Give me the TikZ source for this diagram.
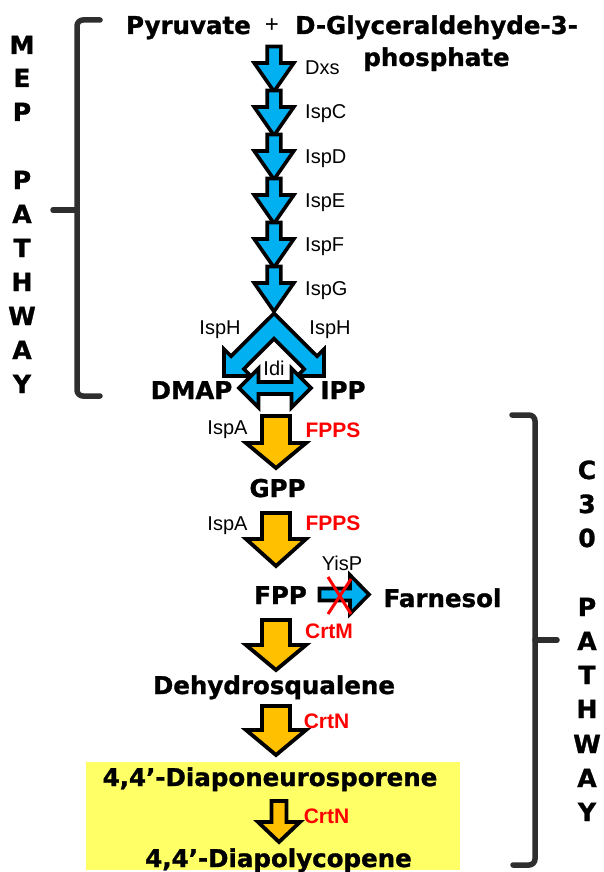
\documentclass[tikz,border=0pt]{standalone}
\usepackage{fontspec}
\setmainfont{Liberation Sans}
\newfontfamily\heavyfont{DejaVu Sans}[BoldFeatures={FakeBold=1.2}]
\definecolor{mepblue}{HTML}{00B0F0}
\definecolor{cthorange}{HTML}{FFC000}
\definecolor{boxyellow}{HTML}{FFFF66}
\definecolor{bracketgray}{HTML}{2E2E2E}
\definecolor{labred}{HTML}{FF0000}
\newcommand{\dnarrow}[7]{%
  \draw[#1] (#2-#6,#3) -- (#2+#6,#3) -- (#2+#6,#4) -- (#2+#7,#4) -- (#2,#5) -- (#2-#7,#4) -- (#2-#6,#4) -- cycle;}
\tikzset{
  bluearr/.style={draw=black, line width=3.6pt, fill=mepblue, line join=miter},
  orarr/.style={draw=black, line width=3.8pt, fill=cthorange, line join=miter},
  big/.style={font=\heavyfont\bfseries\fontsize{24.5}{28}\selectfont, inner sep=0pt, anchor=base},
  lab/.style={font=\fontsize{20}{24}\selectfont, inner sep=0pt, anchor=base},
  redlab/.style={font=\bfseries\fontsize{21}{24}\selectfont, text=labred, inner sep=0pt, anchor=base},
  side/.style={font=\heavyfont\bfseries\fontsize{25}{28}\selectfont, inner sep=0pt, anchor=base},
  bracket/.style={draw=bracketgray, line width=5.5pt, line cap=round, rounded corners=6pt}
}
\begin{document}
\begin{tikzpicture}[x=1pt,y=-1pt]
\useasboundingbox (0,0) rectangle (604,872);
% yellow box
\fill[boxyellow] (86,762) rectangle (460,870);
% brackets
\draw[bracket] (100,20) -- (77,20) -- (77,396) -- (100,396);
\draw[bracket] (77,210) -- (53,210);
\draw[bracket] (512,415) -- (535,415) -- (535,865) -- (513,865);
\draw[bracket] (535,640) -- (557,640);
% side letters
\foreach \l/\y [count=\i] in {M/45,E/78,P/112,P/180,A/214,T/248,H/282,W/316,A/350,Y/384}
  \node[side] (mep\i) at (22,\y+9) {\l};
\foreach \l/\y [count=\i] in {C/470,3/504,0/538,P/607,A/641,T/675,H/709,W/744,A/778,Y/812}
  \node[side] (cth\i) at (587,\y+9) {\l};
% blue MEP arrows
\foreach \k in {0,...,5}{
  \pgfmathsetmacro{\tp}{46.5+44*\k}
  \pgfmathsetmacro{\bs}{63+44*\k}
  \pgfmathsetmacro{\tip}{91.5+44*\k}
  \dnarrow{bluearr}{274}{\tp}{\bs}{\tip}{6.8}{19.8}
}
% chevron (IspH)
\draw[bluearr] (274,313.3) -- (317,356.2) -- (324,349.2) -- (324,376) -- (297.2,376) -- (304.2,369) -- (274,338.7)
  -- (243.8,369) -- (250.8,376) -- (224,376) -- (224,349.2) -- (231,356.2) -- cycle;
% Idi double arrow
\draw[bluearr] (239,388) -- (258.5,368.5) -- (258.5,382) -- (291.5,382) -- (291.5,368.5) -- (311,388)
  -- (291.5,407.5) -- (291.5,394) -- (258.5,394) -- (258.5,407.5) -- cycle;
% orange arrows
\dnarrow{orarr}{276}{416}{443}{468}{14}{30}
\dnarrow{orarr}{276}{513}{539}{566}{14}{30}
\dnarrow{orarr}{276}{620}{645}{670}{14}{30}
\dnarrow{orarr}{276}{706}{730}{755}{14}{30}
\dnarrow{orarr}{279}{801}{822}{842}{7.5}{21}
% FPP -> Farnesol arrow
\draw[bluearr] (319.5,588.5) -- (350,588.5) -- (350,575) -- (369,594.5) -- (350,614) -- (350,600.5) -- (319.5,600.5) -- cycle;
\draw[labred, line width=3pt] (328,577) -- (351,614);
\draw[labred, line width=3pt] (351,579) -- (328,614);
% texts
\node[big] (pyr) at (188.5,34) {Pyruvate};
\node[lab, font=\fontsize{24}{28}\selectfont] (plus) at (272,33) {+};
\node[big] (gly) at (436.5,34) {D-Glyceraldehyde-3-};
\node[big] (phos) at (436.5,66) {phosphate};
\foreach \t/\n [count=\i from 0] in {Dxs/dxs,IspC/ispc,IspD/ispd,IspE/ispe,IspF/ispf,IspG/ispg}
  \node[lab, anchor=base west] (\n) at (305,75+44*\i) {\t};
\node[lab] (isphl) at (220,334) {IspH};
\node[lab] (isphr) at (330,334) {IspH};
\node[lab] (idi) at (274,375) {Idi};
\node[big] (dmap) at (191.5,399) {DMAP};
\node[big] (ipp) at (343,399) {IPP};
\node[lab] (ispa1) at (227.5,434) {IspA};
\node[redlab] (fpps1) at (333,437.5) {FPPS};
\node[big] (gpp) at (277.5,497) {GPP};
\node[lab] (ispa2) at (227.5,530) {IspA};
\node[redlab] (fpps2) at (333,530.5) {FPPS};
\node[lab] (yisp) at (342,570) {YisP};
\node[big] (fpp) at (280.5,604) {FPP};
\node[big] (farn) at (442.5,607) {Farnesol};
\node[redlab] (crtm) at (329,638) {CrtM};
\node[big] (dehy) at (274,694) {Dehydrosqualene};
\node[redlab] (crtn1) at (326.5,728) {CrtN};
\node[big] (diapo) at (270,786) {4,4’-Diaponeurosporene};
\node[redlab] (crtn2) at (326.5,823) {CrtN};
\node[big] (diapoly) at (278.5,867) {4,4’-Diapolycopene};
\end{tikzpicture}
\end{document}
